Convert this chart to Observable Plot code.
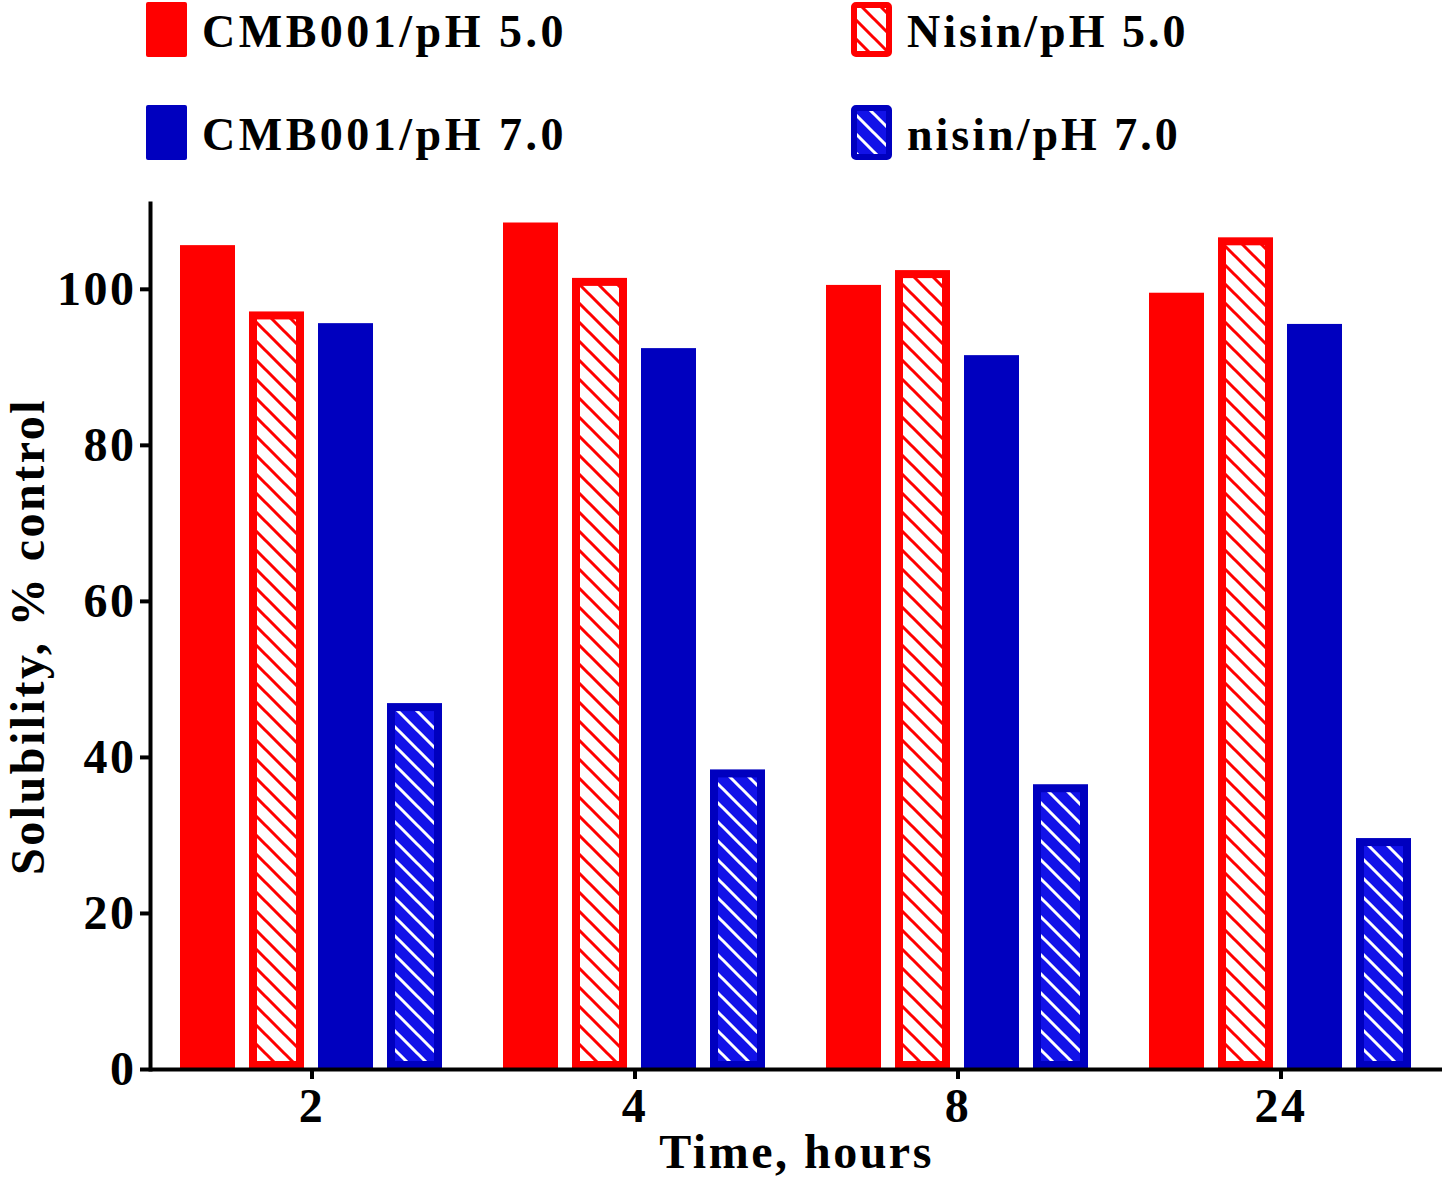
<!DOCTYPE html>
<html>
<head>
<meta charset="utf-8">
<script src="https://cdn.jsdelivr.net/npm/d3@7"></script>
<script src="https://cdn.jsdelivr.net/npm/@observablehq/plot@0.6"></script>
<style>
  body { margin: 0; background: #fff; }
  #legend, #chart { display: block; }
  svg text { font-family: "Liberation Serif", "Times New Roman", serif; font-weight: bold; }
  #chart svg text { letter-spacing: 2.5px; }
</style>
</head>
<body>
<svg id="legend" width="1450" height="180"></svg>
<div id="chart"></div>
<script>
// ---- data ----
const times = ["2", "4", "8", "24"];
const seriesNames = ["CMB001/pH 5.0", "Nisin/pH 5.0", "CMB001/pH 7.0", "nisin/pH 7.0"];
const cmb001pH5 = [105.6, 108.5, 100.5, 99.5];
const nisinpH5  = [97.1, 101.4, 102.4, 106.6];
const cmb001pH7 = [95.6, 92.4, 91.5, 95.5];
const nisinpH7  = [46.9, 38.4, 36.5, 29.6];
const yTicks = [0, 20, 40, 60, 80, 100];

// ---- styles ----
const RED = "#ff0000", BLUE = "#0000bf";
const styles = [
  { fill: RED },
  { fill: "url(#hatchRed)", stroke: RED, strokeWidth: 8, inset: 4 },
  { fill: BLUE },
  { fill: "url(#hatchBlue)", stroke: BLUE, strokeWidth: 8, inset: 4 }
];

const valueArrays = [cmb001pH5, nisinpH5, cmb001pH7, nisinpH7];
const rows = times.flatMap((t, i) => seriesNames.map((s, j) => ({ time: t, series: s, value: valueArrays[j][i] })));

// ---- legend + patterns ----
const leg = d3.select("#legend");
const defs = leg.append("defs");
const pr = defs.append("pattern").attr("id", "hatchRed").attr("patternUnits", "userSpaceOnUse").attr("width", 19).attr("height", 19);
pr.append("rect").attr("width", 19).attr("height", 19).attr("fill", "#fff");
pr.append("path").attr("d", "M-5,-5L24,24M-5,14L5,24M14,-5L24,5").attr("stroke", RED).attr("stroke-width", 3);
const pb = defs.append("pattern").attr("id", "hatchBlue").attr("patternUnits", "userSpaceOnUse").attr("width", 19).attr("height", 19);
pb.append("rect").attr("width", 19).attr("height", 19).attr("fill", "#1212e8");
pb.append("path").attr("d", "M-5,-5L24,24M-5,14L5,24M14,-5L24,5").attr("stroke", "#fff").attr("stroke-width", 3);

const legPos = [
  { x: 146, y: 2 }, { x: 851, y: 2 }, { x: 146, y: 105 }, { x: 851, y: 105 }
];
seriesNames.forEach((s, i) => {
  const p = legPos[i], st = styles[i];
  const hatched = !!st.stroke;
  leg.append("rect")
    .attr("x", p.x + (hatched ? 3 : 0)).attr("y", p.y + (hatched ? 3 : 0))
    .attr("width", 41 - (hatched ? 6 : 0)).attr("height", 55 - (hatched ? 6 : 0))
    .attr("rx", 2)
    .attr("fill", st.fill)
    .attr("stroke", hatched ? st.stroke : "none")
    .attr("stroke-width", hatched ? 6 : 0);
  leg.append("text")
    .attr("x", p.x + 56).attr("y", p.y + 45)
    .attr("font-size", 46).attr("letter-spacing", i % 2 ? 3 : 3.5)
    .attr("fill", "#000")
    .text(s);
});

// ---- chart ----
const barMarks = seriesNames.map((s, j) =>
  Plot.barY(rows.filter(d => d.series === s), {
    fx: "time", x: "series", y: "value", ...styles[j]
  })
);

const chart = Plot.plot({
  width: 1450,
  height: 1002,
  marginLeft: 150,
  marginRight: 8,
  marginTop: 23,
  marginBottom: 113,
  style: { fontFamily: "Liberation Serif, Times New Roman, serif", fontWeight: "bold", fontSize: "48px", color: "#000", background: "#fff" },
  fx: { domain: times, padding: 0 },
  x: { domain: seriesNames, paddingInner: 0.2, paddingOuter: 0.44, axis: null },
  y: { domain: [0, 111] },
  marks: [
    ...barMarks,
    Plot.ruleY([0], { strokeWidth: 4 }),
    Plot.frame({ anchor: "left", facetAnchor: "left", strokeWidth: 4 }),
    Plot.axisY({ ticks: yTicks, tickSize: 10, tickPadding: 4, strokeWidth: 4, tickFormat: d => d,
      label: "Solubility, % control", labelArrow: "none", labelAnchor: "center", labelOffset: 141 }),
    Plot.axisFx({ anchor: "bottom", tickSize: 10, tickPadding: 8, strokeWidth: 4,
      label: "Time, hours", labelArrow: "none", labelAnchor: "center", labelOffset: 98 })
  ]
});
document.getElementById("chart").appendChild(chart);
</script>
</body>
</html>
